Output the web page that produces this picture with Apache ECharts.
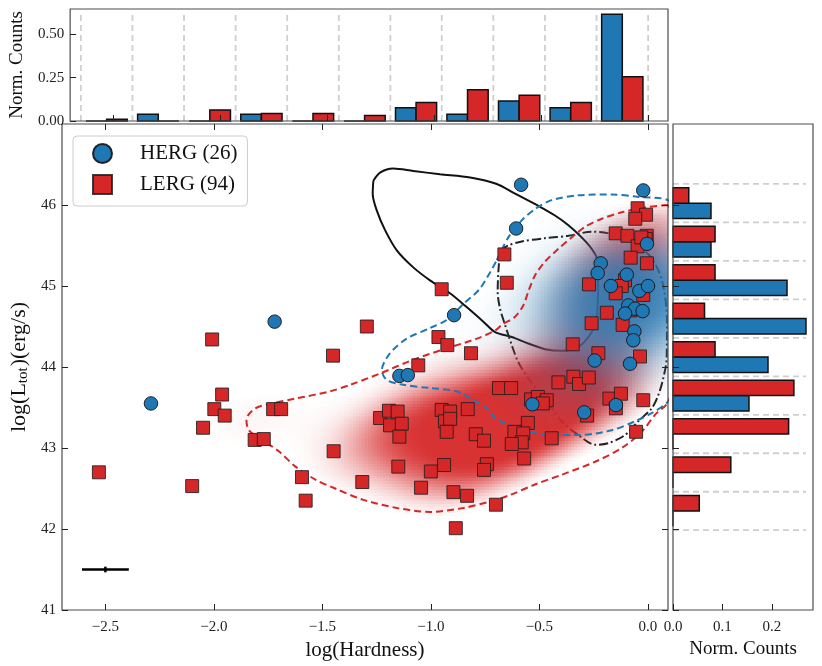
<!DOCTYPE html>
<html>
<head>
<meta charset="utf-8">
<title>HERG / LERG</title>
<script src="https://cdn.jsdelivr.net/npm/echarts@6/dist/echarts.min.js"></script>
<style>
    html, body {margin: 0; padding: 0; background: #fff;}
    #main {width: 822px; height: 666px;}
</style>
</head>
<body>
<div id="main"></div>
<script type="text/javascript">
    var FONT = 'Liberation Serif';
    var BLUE = '#1f77b4', RED = '#d62728';
    var BLUE_RGB = '31,119,180', RED_RGB = '214,39,40';

    // HERG (blue circles)
    var hergX = [-2.29, -1.72, -1.145, -1.106, -0.893, -0.584, -0.607, -0.021, -0.004, -0.217, -0.231, -0.097, -0.17,
        -0.039, 0.001, -0.09, -0.059, -0.024, -0.105, -0.062, -0.067, -0.245, -0.082, -0.532, -0.147, -0.293];
    var hergY = [43.55, 44.56, 43.89, 43.9, 44.64, 46.25, 45.71, 46.18, 45.52, 45.28, 45.16, 45.14, 45.0,
        44.94, 45.0, 44.76, 44.72, 44.69, 44.66, 44.44, 44.33, 44.08, 44.04, 43.54, 43.53, 43.44];

    // LERG (red squares)
    var lergX = [-2.008, -1.451, -1.962, -1.998, -1.95, -2.05, -2.53, -2.1, -1.727, -1.69, -1.812, -1.77, -1.594, -1.577,
        -1.448, -0.95, -1.295, -0.965, -0.924, -0.815, -1.058, -1.234, -1.193, -1.153, -1.188, -1.134, -1.145, -0.95,
        -0.911, -0.935, -0.911, -0.927, -0.83, -0.793, -0.755, -1.15, -1.0, -0.939, -0.742, -0.755, -1.316, -1.045,
        -0.896, -0.833, -0.7, -0.885, -0.661, -0.65, -0.047, -0.008, -0.058, -0.148, -0.094, -0.005, -0.01, -0.047,
        -0.079, -0.004, -0.271, -0.105, -0.12, -0.148, -0.021, -0.189, -0.259, -0.116, -0.346, -0.228, -0.036, -0.412,
        -0.343, -0.317, -0.272, -0.686, -0.63, -0.538, -0.507, -0.466, -0.484, -0.177, -0.124, -0.021, -0.147, -0.28,
        -0.553, -0.615, -0.574, -0.581, -0.627, -0.443, -0.054, -0.57, -0.03, -0.08];
    var lergY = [44.34, 44.14, 43.66, 43.48, 43.4, 43.25, 42.7, 42.53, 43.48, 43.48, 43.1, 43.11, 42.64, 42.35,
        42.96, 44.96, 44.5, 44.37, 44.27, 44.17, 44.02, 43.37, 43.46, 43.45, 43.28, 43.3, 43.14, 43.47,
        43.45, 43.33, 43.36, 43.2, 43.48, 43.17, 43.09, 42.77, 42.71, 42.79, 42.8, 42.73, 42.58, 42.51,
        42.455, 42.41, 42.3, 42.01, 45.39, 45.04, 45.96, 45.88, 45.83, 45.65, 45.62, 45.62, 45.58, 45.49,
        45.35, 45.28, 45.02, 45.07, 45.0, 44.91, 44.89, 44.67, 44.54, 44.52, 44.28, 44.17, 44.13, 43.81,
        43.88, 43.79, 43.87, 43.74, 43.74, 43.6, 43.63, 43.59, 43.55, 43.61, 43.67, 43.59, 43.49, 43.4,
        43.31, 43.2, 43.18, 43.07, 43.05, 43.12, 43.2, 42.87, 45.6, 44.7];

    // top histogram (log Hardness), normalised counts per bin
    var xEdges = [-2.65, -2.409, -2.168, -1.927, -1.686, -1.445, -1.204, -0.964, -0.723, -0.482, -0.241, 0.0];
    var hergTop = [0, 0.0385, 0, 0.0385, 0, 0, 0.0769, 0.0385, 0.1154, 0.0769, 0.6154];
    var lergTop = [0.0106, 0, 0.0638, 0.0426, 0.0426, 0.0319, 0.1064, 0.1809, 0.1489, 0.1064, 0.2553];

    // right histogram (log L), bins from bottom to top
    var yEdges = [41.985, 42.46, 42.935, 43.41, 43.885, 44.36, 44.835, 45.31, 45.785, 46.26];
    var hergRight = [0, 0, 0, 0.1538, 0.1923, 0.2692, 0.2308, 0.0769, 0.0769];
    var lergRight = [0.0532, 0.117, 0.234, 0.2447, 0.0851, 0.0638, 0.0851, 0.0851, 0.0319];

    var xTicks = [-2.5, -2.0, -1.5, -1.0, -0.5, 0.0];
    var yTicks = [41, 42, 43, 44, 45, 46];
    var topTicks = [0, 0.25, 0.5];
    var rightTicks = [0, 0.1, 0.2];

    // typical uncertainty: [x, y, errX, errY]
    var errBar = [[-2.5, 41.5, 0.108, 0.035]];

    // density contours, [logH, logL]
    var cHerg = [[-0.696, 45.32], [-0.643, 45.6], [-0.581, 45.81], [-0.52, 45.95], [-0.443, 46.06], [-0.32, 46.12],
        [-0.166, 46.13], [-0.044, 46.1], [0.093, 46.06], [0.2, 45.7], [0.25, 44.8], [0.2, 43.9], [0.093, 43.57],
        [0.018, 43.43], [-0.059, 43.33], [-0.166, 43.22], [-0.32, 43.16], [-0.443, 43.16], [-0.551, 43.2],
        [-0.643, 43.29], [-0.704, 43.37], [-0.742, 43.49], [-0.804, 43.59], [-0.881, 43.7], [-1.004, 43.74],
        [-1.127, 43.78], [-1.203, 43.84], [-1.226, 43.96], [-1.188, 44.17], [-1.111, 44.35], [-1.004, 44.48],
        [-0.927, 44.58], [-0.85, 44.78], [-0.773, 44.97], [-0.696, 45.32]];
    var cLerg = [[0.093, 46.0], [-0.013, 45.97], [-0.12, 45.91], [-0.212, 45.83], [-0.289, 45.73], [-0.351, 45.6],
        [-0.412, 45.46], [-0.474, 45.3], [-0.52, 45.13], [-0.551, 44.93], [-0.574, 44.76], [-0.612, 44.62],
        [-0.673, 44.52], [-0.704, 44.45], [-0.788, 44.35], [-0.927, 44.23], [-1.081, 44.09], [-1.234, 43.92],
        [-1.372, 43.78], [-1.464, 43.7], [-1.624, 43.61], [-1.732, 43.55], [-1.809, 43.49], [-1.85, 43.35],
        [-1.839, 43.22], [-1.778, 43.1], [-1.701, 42.96], [-1.624, 42.77], [-1.532, 42.61], [-1.441, 42.5],
        [-1.311, 42.36], [-1.157, 42.26], [-1.004, 42.21], [-0.85, 42.26], [-0.727, 42.34], [-0.635, 42.42],
        [-0.52, 42.55], [-0.397, 42.67], [-0.243, 42.83], [-0.12, 43.0], [-0.028, 43.2], [0.033, 43.41],
        [0.093, 43.57], [0.2, 44.5], [0.18, 45.5], [0.093, 46.0]];
    var cSolid = [[-1.265, 46.3], [-1.234, 46.4], [-1.173, 46.45], [-1.081, 46.42], [-0.958, 46.38], [-0.819, 46.34],
        [-0.696, 46.26], [-0.612, 46.14], [-0.505, 45.99], [-0.428, 45.87], [-0.366, 45.75], [-0.305, 45.6],
        [-0.259, 45.46], [-0.235, 45.34], [-0.229, 44.95], [-0.234, 44.64], [-0.243, 44.52], [-0.274, 44.37],
        [-0.32, 44.25], [-0.397, 44.2], [-0.474, 44.22], [-0.551, 44.29], [-0.627, 44.37], [-0.704, 44.43],
        [-0.758, 44.56], [-0.835, 44.74], [-0.912, 44.91], [-1.004, 45.07], [-1.081, 45.23], [-1.157, 45.44],
        [-1.211, 45.69], [-1.249, 45.93], [-1.268, 46.14], [-1.265, 46.3]];
    var cDashDot = [[-0.681, 45.44], [-0.643, 45.5], [-0.581, 45.55], [-0.474, 45.59], [-0.366, 45.62], [-0.259, 45.67],
        [-0.165, 45.64], [-0.073, 45.54], [0.01, 45.37], [0.065, 45.07], [0.088, 44.58], [0.087, 44.11],
        [0.071, 43.86], [0.048, 43.65], [0.018, 43.49], [-0.044, 43.33], [-0.105, 43.16], [-0.182, 43.06],
        [-0.243, 43.04], [-0.32, 43.16], [-0.397, 43.33], [-0.474, 43.61], [-0.551, 43.86], [-0.597, 44.06],
        [-0.627, 44.27], [-0.658, 44.52], [-0.681, 44.72], [-0.692, 44.93], [-0.689, 45.17], [-0.681, 45.44]];

    var X_MIN = -2.7, X_MAX = 0.093, Y_MIN = 41, Y_MAX = 47;

    function pairs(xs, ys) {
        return xs.map(function (x, i) { return [x, ys[i]]; });
    }

    // gaussian kde (scott factor, full covariance) on a grid,
    // shaded with a smooth ramp from a floor level (t0) to `amax` at `top`
    var NX = 200, NY = 170;
    var DX = (X_MAX - X_MIN) / NX, DY = (Y_MAX - Y_MIN) / NY;

    function kdeCells(xs, ys, t0, top, amax) {
        var n = xs.length, mx = 0, my = 0;
        for (var i = 0; i < n; i++) { mx += xs[i]; my += ys[i]; }
        mx /= n; my /= n;
        var sxx = 0, syy = 0, sxy = 0;
        for (i = 0; i < n; i++) {
            sxx += (xs[i] - mx) * (xs[i] - mx);
            syy += (ys[i] - my) * (ys[i] - my);
            sxy += (xs[i] - mx) * (ys[i] - my);
        }
        var f2 = Math.pow(n, -1 / 3);
        sxx = sxx / (n - 1) * f2; syy = syy / (n - 1) * f2; sxy = sxy / (n - 1) * f2;
        var det = sxx * syy - sxy * sxy;
        var ia = syy / det, ib = -sxy / det, ic = sxx / det;
        var vals = [], dmax = 0;
        for (var gx = 0; gx < NX; gx++) {
            for (var gy = 0; gy < NY; gy++) {
                var cx = X_MIN + (gx + 0.5) * DX, cy = Y_MIN + (gy + 0.5) * DY, d = 0;
                for (i = 0; i < n; i++) {
                    var u = cx - xs[i], v = cy - ys[i];
                    d += Math.exp(-0.5 * (ia * u * u + 2 * ib * u * v + ic * v * v));
                }
                if (d > dmax) dmax = d;
                vals.push([cx, cy, d]);
            }
        }
        var out = [];
        vals.forEach(function (c) {
            var t = (c[2] / dmax - t0) / (top - t0);
            if (t <= 0) return;
            t = Math.min(t, 1);
            var a = amax * t * t * (3 - 2 * t);
            if (a > 0.01) out.push([c[0], c[1], a]);
        });
        return out;
    }

    function shadeSeries(cells, rgb, z) {
        return {
            type: 'custom', xAxisIndex: 0, yAxisIndex: 0, z: z, silent: true, clip: true, progressive: 0,
            encode: {x: 0, y: 1},
            data: cells,
            renderItem: function (params, api) {
                var xc = api.value(0), yc = api.value(1), a = api.value(2);
                var p0 = api.coord([xc - DX / 2, yc + DY / 2]);
                var p1 = api.coord([xc + DX / 2, yc - DY / 2]);
                var x = Math.round(p0[0]), y = Math.round(p0[1]);
                return {
                    type: 'rect',
                    shape: {x: x, y: y, width: Math.round(p1[0]) - x, height: Math.round(p1[1]) - y},
                    style: {fill: 'rgba(' + rgb + ',' + a.toFixed(3) + ')'}
                };
            }
        };
    }

    function contourSeries(pts, color, dash, width, z) {
        return {
            type: 'line', xAxisIndex: 0, yAxisIndex: 0, data: pts, z: z, silent: true,
            showSymbol: false, smooth: 0.3, clip: true,
            lineStyle: {color: color, width: width, type: dash}
        };
    }

    // vertical histogram bars, offset 0 = left half of bin, 1 = right half
    function topBars(vals, color, offset) {
        return {
            type: 'custom', xAxisIndex: 1, yAxisIndex: 1, z: 3, silent: true,
            encode: {x: [0, 1], y: 2},
            data: vals.map(function (v, i) { return [xEdges[i], xEdges[i + 1], v]; }),
            renderItem: function (params, api) {
                var a = api.value(0), w = api.value(1) - a;
                var x0 = a + w * (0.1 + 0.4 * offset);
                var p0 = api.coord([x0, api.value(2)]), p1 = api.coord([x0 + 0.4 * w, 0]);
                return {
                    type: 'rect',
                    shape: {x: p0[0], y: p0[1], width: p1[0] - p0[0], height: p1[1] - p0[1]},
                    style: {fill: color, stroke: '#111', lineWidth: 1.5}
                };
            }
        };
    }

    function rightBars(vals, color, offset) {
        return {
            type: 'custom', xAxisIndex: 2, yAxisIndex: 2, z: 3, silent: true,
            encode: {y: [0, 1], x: 2},
            data: vals.map(function (v, i) { return [yEdges[i], yEdges[i + 1], v]; }),
            renderItem: function (params, api) {
                var a = api.value(0), h = api.value(1) - a;
                var y0 = a + h * (0.1 + 0.4 * offset);
                var p0 = api.coord([0, y0 + 0.4 * h]), p1 = api.coord([api.value(2), y0]);
                return {
                    type: 'rect',
                    shape: {x: p0[0], y: p0[1], width: p1[0] - p0[0], height: p1[1] - p0[1]},
                    style: {fill: color, stroke: '#111', lineWidth: 1.5}
                };
            }
        };
    }

    function edgeLines(edges, top, vertical) {
        return {
            type: 'custom', xAxisIndex: vertical ? 1 : 2, yAxisIndex: vertical ? 1 : 2, z: 1, silent: true,
            encode: vertical ? {x: 0, y: 1} : {y: 0, x: 1},
            data: edges.map(function (e) { return [e, top]; }),
            renderItem: function (params, api) {
                var e = api.value(0), t = api.value(1);
                var p0 = vertical ? api.coord([e, 0]) : api.coord([0, e]);
                var p1 = vertical ? api.coord([e, t]) : api.coord([t, e]);
                return {
                    type: 'line',
                    shape: {x1: p0[0], y1: p0[1], x2: p1[0], y2: p1[1]},
                    style: {stroke: '#cfcfcf', lineWidth: 1.8, lineDash: [6, 4]}
                };
            }
        };
    }

    function fmtMinus(v, d) {
        return (v < 0 ? '\u2212' : '') + Math.abs(v).toFixed(d);
    }

    function ticks(values) {
        return {customValues: values, inside: true, length: 6, lineStyle: {color: '#222', width: 1}};
    }
    var labelStyle = {fontFamily: FONT, fontSize: 15, color: '#222'};

    var maxTop = Math.max.apply(null, hergTop.concat(lergTop));
    var maxRight = Math.max.apply(null, hergRight.concat(lergRight));

    var myChart = echarts.init(document.getElementById('main'));

    var option = {
        animation: false,
        backgroundColor: '#fff',
        legend: {
            left: 73, top: 136, orient: 'vertical',
            padding: [7, 10, 11, 19], itemGap: 10, itemWidth: 19, itemHeight: 19,
            backgroundColor: 'rgba(255,255,255,0.85)', borderColor: '#cccccc', borderWidth: 1, borderRadius: 4,
            textStyle: {fontFamily: FONT, fontSize: 21, color: '#111', padding: [0, 0, 0, 23]},
            data: [
                {name: 'HERG (26)', icon: 'circle'},
                {name: 'LERG (94)', icon: 'rect'}
            ],
            z: 20
        },
        grid: [
            {left: 62, top: 124, width: 606, height: 486, show: true, borderColor: '#4d4d4d', borderWidth: 1.2, z: 10},
            {left: 62, top: 9, width: 606, height: 112, show: true, borderColor: '#4d4d4d', borderWidth: 1.2, z: 10},
            {left: 673, top: 124, width: 140, height: 486, show: true, borderColor: '#4d4d4d', borderWidth: 1.2, z: 10}
        ],
        xAxis: [
            {
                type: 'value', gridIndex: 0, min: X_MIN, max: X_MAX, z: 10,
                axisLine: {show: false, onZero: false}, splitLine: {show: false},
                axisTick: ticks(xTicks),
                axisLabel: Object.assign({customValues: xTicks, margin: 10, formatter: function (v) { return fmtMinus(v, 1); }}, labelStyle),
                name: 'log(Hardness)', nameLocation: 'middle', nameGap: 25,
                nameTextStyle: {fontFamily: FONT, fontSize: 21, color: '#111'}
            },
            {
                type: 'value', gridIndex: 1, min: X_MIN, max: X_MAX, z: 10,
                axisLine: {show: false, onZero: false}, splitLine: {show: false},
                axisTick: ticks(xTicks),
                axisLabel: {show: false}
            },
            {
                type: 'value', gridIndex: 2, min: 0, max: 0.2834, z: 10,
                axisLine: {show: false, onZero: false}, splitLine: {show: false},
                axisTick: ticks(rightTicks),
                axisLabel: Object.assign({customValues: rightTicks, margin: 10, formatter: function (v) { return v.toFixed(1); }}, labelStyle),
                name: 'Norm. Counts', nameLocation: 'middle', nameGap: 22,
                nameTextStyle: {fontFamily: FONT, fontSize: 19, color: '#111'}
            },
            {
                type: 'value', gridIndex: 0, position: 'top', min: X_MIN, max: X_MAX, z: 10,
                axisLine: {show: false, onZero: false}, splitLine: {show: false},
                axisTick: ticks(xTicks),
                axisLabel: {show: false}
            }
        ],
        yAxis: [
            {
                type: 'value', gridIndex: 0, position: 'left', min: Y_MIN, max: Y_MAX, z: 10,
                axisLine: {show: false, onZero: false}, splitLine: {show: false},
                axisTick: ticks(yTicks),
                axisLabel: Object.assign({customValues: yTicks, margin: 6}, labelStyle),
                name: 'log(L{sub|tot})(erg/s)', nameLocation: 'middle', nameGap: 28,
                nameTextStyle: {
                    fontFamily: FONT, fontSize: 22, color: '#111', verticalAlign: 'bottom',
                    rich: {sub: {fontFamily: FONT, fontSize: 15, color: '#111', verticalAlign: 'bottom', padding: [0, 1, 0, 0]}}
                }
            },
            {
                type: 'value', gridIndex: 1, position: 'left', min: 0, max: 0.646, z: 10,
                axisLine: {show: false, onZero: false}, splitLine: {show: false},
                axisTick: ticks(topTicks),
                axisLabel: Object.assign({customValues: topTicks, margin: 6, formatter: function (v) { return v.toFixed(2); }}, labelStyle),
                name: 'Norm. Counts', nameLocation: 'middle', nameGap: 37,
                nameTextStyle: {fontFamily: FONT, fontSize: 19, color: '#111'}
            },
            {
                type: 'value', gridIndex: 2, position: 'left', min: Y_MIN, max: Y_MAX, z: 10,
                axisLine: {show: false, onZero: false}, splitLine: {show: false},
                axisTick: ticks(yTicks),
                axisLabel: {show: false}
            },
            {
                type: 'value', gridIndex: 0, position: 'right', min: Y_MIN, max: Y_MAX, z: 10,
                axisLine: {show: false, onZero: false}, splitLine: {show: false},
                axisTick: ticks(yTicks),
                axisLabel: {show: false}
            }
        ],
        series: [
            contourSeries(cSolid, '#111', 'solid', 2, 1),
            contourSeries(cDashDot, '#222', [9, 3, 2, 3], 2, 1),
            shadeSeries(kdeCells(lergX, lergY, 0.27, 0.8, 0.95), RED_RGB, 2),
            shadeSeries(kdeCells(hergX, hergY, 0.2, 1.0, 0.85), BLUE_RGB, 3),
            contourSeries(cHerg, BLUE, [7, 4], 2, 4),
            contourSeries(cLerg, RED, [7, 4], 2, 4),
            {
                name: 'LERG (94)', type: 'scatter', xAxisIndex: 0, yAxisIndex: 0, z: 5,
                symbol: 'rect', symbolSize: 13,
                itemStyle: {color: RED, opacity: 1, borderColor: 'rgba(30,30,30,0.85)', borderWidth: 1},
                data: pairs(lergX, lergY)
            },
            {
                name: 'HERG (26)', type: 'scatter', xAxisIndex: 0, yAxisIndex: 0, z: 6,
                symbol: 'circle', symbolSize: 13.5,
                itemStyle: {color: BLUE, opacity: 1, borderColor: 'rgba(20,20,20,0.9)', borderWidth: 1},
                data: pairs(hergX, hergY)
            },
            {
                type: 'custom', xAxisIndex: 0, yAxisIndex: 0, z: 6, silent: true,
                encode: {x: 0, y: 1},
                data: errBar,
                renderItem: function (params, api) {
                    var x = api.value(0), y = api.value(1), ex = api.value(2), ey = api.value(3);
                    var a = api.coord([x - ex, y]), b = api.coord([x + ex, y]);
                    var c = api.coord([x, y - ey]), d = api.coord([x, y + ey]);
                    var st = {stroke: '#000', lineWidth: 2.5};
                    return {
                        type: 'group', children: [
                            {type: 'line', shape: {x1: a[0], y1: a[1], x2: b[0], y2: b[1]}, style: st},
                            {type: 'line', shape: {x1: c[0], y1: c[1], x2: d[0], y2: d[1]}, style: st}
                        ]
                    };
                }
            },
            edgeLines(xEdges, maxTop, true),
            topBars(hergTop, BLUE, 0),
            topBars(lergTop, RED, 1),
            edgeLines(yEdges, maxRight, false),
            rightBars(hergRight, BLUE, 0),
            rightBars(lergRight, RED, 1)
        ]
    };

    myChart.setOption(option);
</script>
</body>
</html>
